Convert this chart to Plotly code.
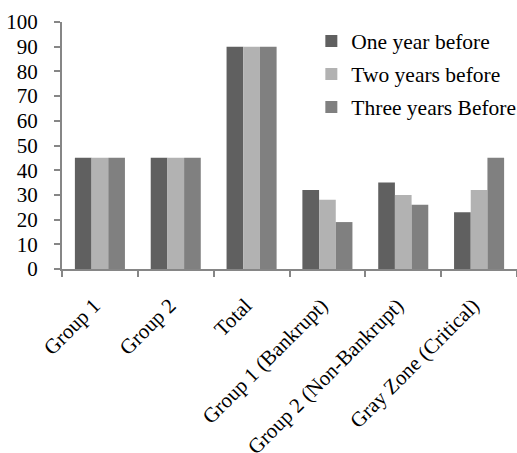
import plotly.graph_objects as go

categories = ["Group 1", "Group 2", "Total", "Group 1 (Bankrupt)",
              "Group 2 (Non-Bankrupt)", "Gray Zone (Critical)"]
one_year_before = [45, 45, 90, 32, 35, 23]
two_years_before = [45, 45, 90, 28, 30, 32]
three_years_before = [45, 45, 90, 19, 26, 45]
y_ticks = list(range(0, 101, 10))

series = [
    ("One year before", one_year_before, "#606060"),
    ("Two years before", two_years_before, "#b2b2b2"),
    ("Three years Before", three_years_before, "#808080"),
]

fig = go.Figure()
for i, (name, vals, color) in enumerate(series):
    fig.add_trace(go.Bar(
        name=name, x=categories, y=vals,
        marker=dict(color=color, line=dict(width=0)),
        legendgroup=f"g{i}",
    ))

axis_color = "#868686"
font_family = "Liberation Serif, Times New Roman, serif"

fig.update_layout(
    width=517, height=453,
    margin=dict(l=62, r=0, t=22, b=184, autoexpand=False),
    paper_bgcolor="white", plot_bgcolor="white",
    barmode="group", bargap=0.34, bargroupgap=0,
    font=dict(family=font_family, size=21, color="black"),
    showlegend=True,
    legend=dict(
        x=0.548, y=1.006, xanchor="left", yanchor="top",
        font=dict(family=font_family, size=21.5, color="black"),
        tracegroupgap=2, bgcolor="rgba(0,0,0,0)",
    ),
    xaxis=dict(
        type="category", showgrid=False, showline=True, automargin=False,
        linecolor=axis_color, linewidth=2,
        ticks="outside", tickson="boundaries", ticklen=6,
        tickcolor=axis_color, tickwidth=2,
        tickangle=-45, tickfont=dict(size=21),
        ticklabelstandoff=14, ticklabelshift=-6,
    ),
    yaxis=dict(
        range=[0, 100], tickvals=y_ticks, showgrid=False, zeroline=False,
        showline=True, linecolor=axis_color, linewidth=2, automargin=False,
        ticks="outside", ticklen=6, tickcolor=axis_color, tickwidth=2,
        ticklabelstandoff=12, tickfont=dict(size=21),
    ),
)

fig.write_html("out.html")
